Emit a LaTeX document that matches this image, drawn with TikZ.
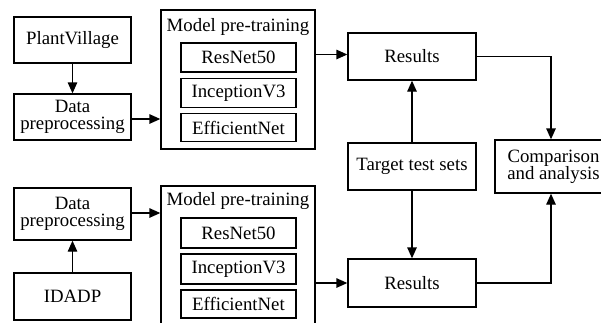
\documentclass[tikz,border=0pt]{standalone}
\usepackage{fontspec}
\setmainfont{Liberation Serif}
\usetikzlibrary{arrows.meta}
\begin{document}
\begin{tikzpicture}[x=1pt,y=-1pt,
  every node/.style={font=\fontsize{18.8}{20}\selectfont},
  box/.style={draw,line width=1.35pt,inner sep=0pt,align=center},
  arr/.style={draw,line width=1.35pt,-{Triangle[length=11pt,width=9.5pt]}},
  ttl/.style={inner sep=0pt}]
\useasboundingbox (0,0) rectangle (601,322);
\clip (0,0) rectangle (601,322);
% top row
\node[box,minimum width=117pt,minimum height=46pt] (pv) at (72.5,40) {PlantVillage};
\node[box,minimum width=117pt,minimum height=46pt] (dp1) at (72.5,117) {Data\\[-3pt]preprocessing};
\node[box,minimum width=154pt,minimum height=139pt] (m1) at (238,79.5) {};
\node[ttl] (t1) at (238,27) {Model pre-training};
\node[box,minimum width=115pt,minimum height=29pt] (r1) at (238.5,57.5) {ResNet50};
\node[box,minimum width=115pt,minimum height=29pt] (i1) at (238.5,93) {InceptionV3};
\node[box,minimum width=115pt,minimum height=28pt] (e1) at (238.5,127.5) {EfficientNet};
\node[box,minimum width=128pt,minimum height=47pt] (res1) at (412,56.5) {Results};
\node[box,minimum width=128pt,minimum height=47pt] (tts) at (412,166.5) {Target test sets};
\node[box,minimum width=117pt,minimum height=53pt] (cmp) at (553.5,166.5) {Comparison\\[-3pt]and analysis};
% bottom row
\node[box,minimum width=117pt,minimum height=52pt] (dp2) at (72.5,214) {Data\\[-3pt]preprocessing};
\node[box,minimum width=117pt,minimum height=47pt] (idadp) at (72.5,296.5) {IDADP};
\node[box,minimum width=154pt,minimum height=150pt] (m2) at (238,261) {};
\node[ttl] (t2) at (238,201) {Model pre-training};
\node[box,minimum width=115pt,minimum height=30pt] (r2) at (238.5,233) {ResNet50};
\node[box,minimum width=115pt,minimum height=30pt] (i2) at (238.5,269) {InceptionV3};
\node[box,minimum width=115pt,minimum height=28pt] (e2) at (238.5,304) {EfficientNet};
\node[box,minimum width=128pt,minimum height=48pt] (res2) at (412,283) {Results};
% connectors
\draw[arr] (pv.south) -- (dp1.north);
\draw[arr] ([yshift=-2pt]dp1.east) -- ([yshift=-2pt]dp1.east -| m1.west);
\draw[arr] ([yshift=2pt]res1.west -| m1.east) -- ([yshift=2pt]res1.west);
\draw[arr] (tts.north) -- (res1.south);
\draw[arr] (res1.east) -| ([xshift=-2.5pt]cmp.north);
\draw[arr] (idadp.north) -- (dp2.south);
\draw[arr] ([yshift=1pt]dp2.east) -- ([yshift=1pt]dp2.east -| m2.west);
\draw[arr] (res2.west -| m2.east) -- (res2.west);
\draw[arr] (tts.south) -- (res2.north);
\draw[arr] (res2.east) -| ([xshift=-2.5pt]cmp.south);
\end{tikzpicture}
\end{document}
